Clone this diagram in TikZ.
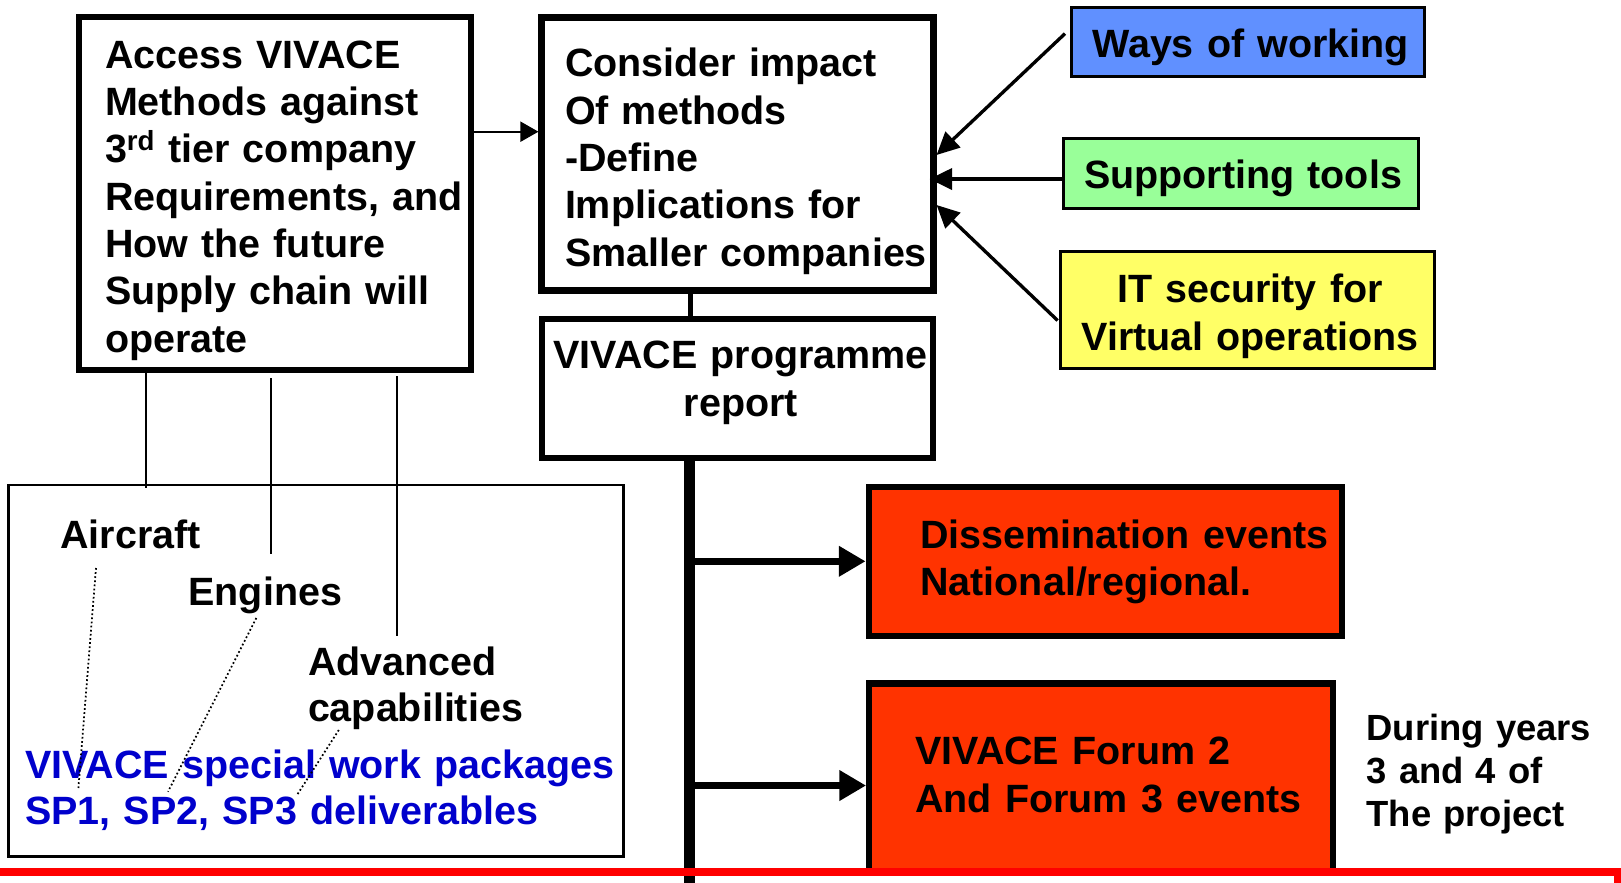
\documentclass[tikz,border=0pt]{standalone}
\usepackage{fontspec}
\setmainfont{Liberation Sans}
\usetikzlibrary{arrows.meta}
\definecolor{waysblue}{RGB}{96,144,255}
\definecolor{toolsgreen}{RGB}{153,255,153}
\definecolor{ityellow}{RGB}{255,255,102}
\definecolor{eventred}{RGB}{255,51,0}
\definecolor{wpblue}{RGB}{0,0,204}
\definecolor{barred}{RGB}{255,0,0}
\newcommand\diagfont{\bfseries\fontsize{29.6}{35.5}\selectfont}
\begin{document}
\begin{tikzpicture}[x=0.75pt,y=-0.75pt,
  txt/.style={font=\diagfont, inner sep=0pt, outer sep=0pt, text width=330pt, align=left, anchor=base west},
  ctxt/.style={font=\diagfont, inner sep=0pt, outer sep=0pt, text width=330pt, align=center, anchor=base},
  heavy/.style={draw=black, line width=4.8pt, inner sep=0pt},
  framebox/.style={draw=black, line width=1.8pt, inner sep=0pt},
  colorbox/.style={draw=black, line width=2.25pt, inner sep=0pt},
  arrA/.style={line width=1.5pt, -{Triangle[length=13.5pt,width=15pt]}},
  arrB/.style={line width=2.5pt, -{Triangle[length=17pt,width=16pt]}},
  arrC/.style={line width=5pt, -{Triangle[length=20pt,width=21.75pt]}},
  thinline/.style={line width=1.5pt},
  dotline/.style={line width=1.3pt, dash pattern=on 1.3pt off 1.8pt},
]
\useasboundingbox (0,0) rectangle (1621,882);

% boxes
\node[heavy, minimum width=293.6pt, minimum height=264.4pt] (access) at (275,193.5) {};
\node[heavy, line width=5pt, minimum width=293.6pt, minimum height=204.75pt] (impact) at (737.5,154) {};
\node[heavy, line width=4.5pt, minimum width=293pt, minimum height=104pt] (report) at (737.7,388.3) {};
\node[colorbox, fill=waysblue, minimum width=264.75pt, minimum height=51.7pt] (ways) at (1248,42) {};
\node[colorbox, fill=toolsgreen, minimum width=266.25pt, minimum height=52.35pt] (tools) at (1241,173.3) {};
\node[colorbox, fill=ityellow, minimum width=280.5pt, minimum height=87.75pt] (it) at (1247.5,310) {};
\node[framebox, minimum width=461.1pt, minimum height=278.6pt] (frame) at (316,670.7) {};
\node[heavy, fill=eventred, minimum width=355.1pt, minimum height=111.75pt] (diss) at (1105.5,561.3) {};
\node[heavy, fill=eventred, minimum width=347.6pt, minimum height=141.5pt] (forum) at (1101,777.65) {};

% texts
\node[txt] (accessText) at (105,68.3) {Access VIVACE\\Methods against\\3\textsuperscript{rd} tier company\\Requirements, and\\How the future\\Supply chain will\\operate};
\node[txt] (impactText) at (565,76.7) {Consider impact\\Of methods\\-Define\\Implications for\\Smaller companies};
\node[ctxt, font=\bfseries\fontsize{29.6}{36.3}\selectfont] (reportText) at (740.8,368.3) {VIVACE programme\\report};
\node[ctxt] (waysText) at (1250.5,57) {Ways of working};
\node[ctxt] (toolsText) at (1243,188) {Supporting tools};
\node[ctxt, font=\bfseries\fontsize{29.6}{36.5}\selectfont] (itText) at (1250,302) {IT security for\\Virtual operations};
\node[txt] (aircraftText) at (60.4,548.5) {Aircraft};
\node[txt] (enginesText) at (188.5,605.5) {Engines};
\node[txt, font=\bfseries\fontsize{29.6}{35}\selectfont] (advText) at (308,675) {Advanced\\capabilities};
\node[txt, text=wpblue, text width=480pt, font=\bfseries\fontsize{29.6}{35}\selectfont] (wpText) at (25,778.3) {VIVACE special work packages\\SP1, SP2, SP3 deliverables};
\node[txt] (dissText) at (920.3,548.5) {Dissemination events\\National/regional.};
\node[txt, font=\bfseries\fontsize{29.6}{36}\selectfont] (forumText) at (915.3,764.5) {VIVACE Forum 2\\And Forum 3 events};
\node[txt, font=\bfseries\fontsize{27.3}{32.5}\selectfont] (duringText) at (1366.7,740) {During years\\3 and 4 of\\The project};

% access -> impact
\coordinate (a1) at ([yshift=46.35pt]access.east);
\draw[arrA] (a1) -- (a1 -| impact.west);

% side inputs -> impact
\draw[arrB] ([xshift=-3.75pt,yshift=6.3pt]ways.west) -- ([yshift=-0.75pt]impact.east);
\coordinate (t1) at ([yshift=-4.3pt]tools.west);
\coordinate (t1e) at ([xshift=-5.25pt]impact.east);
\draw[arrB] (t1) -- (t1e |- t1);
\draw[arrB] ([xshift=-1pt,yshift=-7.9pt]it.west) -- ([yshift=-38.25pt]impact.east);

% impact -- report
\coordinate (c1) at ([xshift=-35.6pt]impact.south);
\draw[line width=3.75pt] (c1) -- (c1 |- report.north);

% main vertical bar
\coordinate (bottomref) at (0,890);
\coordinate (v0) at ([xshift=-36pt]report.south);
\draw[line width=8pt] (v0) -- (v0 |- bottomref);
\coordinate (h1) at (v0 |- diss.west);
\draw[arrC] (h1) -- (diss.west);
\coordinate (fw) at ([yshift=-5.9pt]forum.west);
\coordinate (h2) at (v0 |- fw);
\draw[arrC] (h2) -- (fw);

% lines from access box to the areas
\coordinate (l1s) at ([xshift=-96.75pt]access.south);
\coordinate (l1e) at (146,488);
\draw[thinline] (l1s) -- (l1e);
\coordinate (l2s) at (270.5,378);
\coordinate (l2e) at (270.5,554);
\draw[thinline] (l2s) -- (l2e);
\coordinate (l3s) at (397,376);
\coordinate (l3e) at (397,636);
\draw[thinline] (l3s) -- (l3e);

% dotted links to work packages
\coordinate (d1s) at (96,568);
\coordinate (d1e) at (78.4,788);
\coordinate (d2s) at (256.3,618);
\coordinate (d2e) at (168,791.7);
\coordinate (d3s) at (338.8,730);
\coordinate (d3e) at (297,795);
\draw[dotline] (d1s) -- (d1e);
\draw[dotline] (d2s) -- (d2e);
\draw[dotline] (d3s) -- (d3e);

% red bar at bottom
\coordinate (r0) at (-10,872);
\coordinate (r1) at (1617.5,872);
\coordinate (r2) at (1617.5,900);
\draw[line width=6pt, draw=barred] (r0) -- (r1) -- (r2);
\end{tikzpicture}
\end{document}
